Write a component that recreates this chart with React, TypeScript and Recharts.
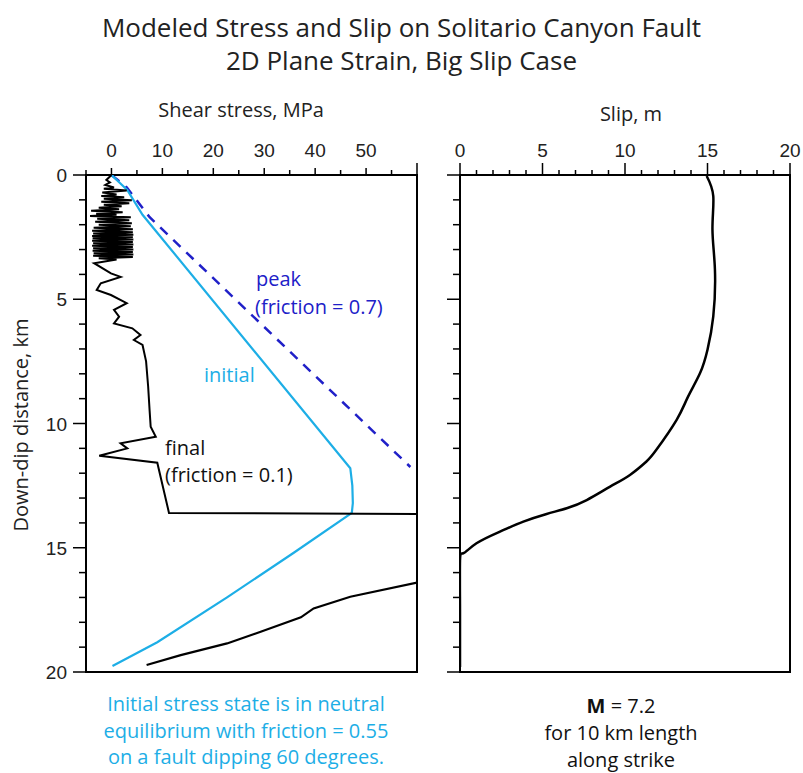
import React from "react";
import { LineChart, Line, XAxis, YAxis, ReferenceArea } from "recharts";

// shear stress profiles (x = MPa, y = down-dip km)
const finalUpper = [
  { x: 0, y: 0 }, { x: -0.5, y: 0.1 }, { x: -1, y: 0.2 }, { x: -0.3, y: 0.3 }, { x: -1.2, y: 0.4 },
  { x: 0.5, y: 0.5 }, { x: -1.5, y: 0.55 }, { x: 3, y: 0.62 }, { x: -1.8, y: 0.7 }, { x: 1, y: 0.78 },
  { x: -2, y: 0.85 }, { x: 2.5, y: 0.9 }, { x: -1.5, y: 0.96 }, { x: 4, y: 1.02 }, { x: -2, y: 1.08 },
  { x: 3.5, y: 1.14 }, { x: -1.5, y: 1.2 }, { x: 2, y: 1.26 }, { x: -2.5, y: 1.32 }, { x: 1.5, y: 1.38 },
  { x: -4, y: 1.44 }, { x: 2.2, y: 1.5 }, { x: -3, y: 1.56 }, { x: 1, y: 1.6 }, { x: -4.2, y: 1.65 },
  { x: 3.8, y: 1.7 }, { x: -2.8, y: 1.76 }, { x: 3.5, y: 1.82 }, { x: -3.2, y: 1.88 }, { x: 4, y: 1.94 },
  { x: -2.5, y: 2.0 }, { x: 3.8, y: 2.06 }, { x: -3.5, y: 2.12 }, { x: 4.2, y: 2.18 }, { x: -3.8, y: 2.24 },
  { x: 4.2, y: 2.3 }, { x: -3.6, y: 2.35 }, { x: 4.3, y: 2.4 }, { x: -3.8, y: 2.45 }, { x: 4.2, y: 2.5 },
  { x: -3.7, y: 2.55 }, { x: 4.3, y: 2.6 }, { x: -3.8, y: 2.65 }, { x: 4.2, y: 2.7 }, { x: -3.6, y: 2.75 },
  { x: 4.3, y: 2.8 }, { x: -3.8, y: 2.85 }, { x: 4.2, y: 2.9 }, { x: -3.6, y: 2.95 }, { x: 4.3, y: 3.0 },
  { x: -3.7, y: 3.05 }, { x: 4.2, y: 3.1 }, { x: -3.5, y: 3.15 }, { x: 4.3, y: 3.2 }, { x: -3.6, y: 3.25 },
  { x: 4.2, y: 3.3 }, { x: -2.5, y: 3.35 }, { x: 1, y: 3.4 }, { x: -3.4, y: 3.55 },
  { x: -0.1, y: 3.96 }, { x: 1.8, y: 4.1 }, { x: -2.1, y: 4.36 }, { x: -2.9, y: 4.63 }, { x: -0.1, y: 4.83 },
  { x: 3.0, y: 5.16 }, { x: 0.5, y: 5.43 }, { x: 1.5, y: 5.7 }, { x: 0.5, y: 5.97 }, { x: 4.1, y: 6.17 },
  { x: 5.7, y: 6.44 }, { x: 4.4, y: 6.64 }, { x: 6.1, y: 6.84 }, { x: 6.8, y: 7.5 }, { x: 7.2, y: 8.5 },
  { x: 7.5, y: 9.5 }, { x: 7.7, y: 10.13 }, { x: 8.7, y: 10.53 }, { x: 1.8, y: 10.8 }, { x: 3.1, y: 11.0 },
  { x: -2.4, y: 11.3 }, { x: 9.0, y: 11.58 }, { x: 11.3, y: 13.6 }, { x: 60, y: 13.64 },
];

const finalLower = [
  { x: 60, y: 16.4 }, { x: 46.9, y: 16.97 }, { x: 39.7, y: 17.44 }, { x: 37.2, y: 17.8 },
  { x: 29.3, y: 18.38 }, { x: 22.7, y: 18.85 }, { x: 13.6, y: 19.32 }, { x: 6.9, y: 19.72 },
];

const initial = [
  { x: 0, y: 0 }, { x: 3.1, y: 0.6 }, { x: 6.1, y: 1.6 }, { x: 46.9, y: 11.8 }, { x: 47.3, y: 12.5 },
  { x: 47.4, y: 13.2 }, { x: 47.2, y: 13.6 }, { x: 35.8, y: 15.2 }, { x: 22.7, y: 17.0 },
  { x: 9.0, y: 18.8 }, { x: 0.2, y: 19.76 },
];

const peak = [
  { x: 0, y: 0 }, { x: 3, y: 0.5 }, { x: 7.5, y: 1.7 }, { x: 58.7, y: 11.75 },
];

// slip profile (x = m, y = km)
const slip = [
  { x: 14.95, y: 0.04 }, { x: 15.35, y: 0.85 }, { x: 15.3, y: 2.19 }, { x: 15.45, y: 3.8 },
  { x: 15.35, y: 5.69 }, { x: 15.0, y: 7.03 }, { x: 14.55, y: 7.97 }, { x: 13.8, y: 8.95 },
  { x: 13.13, y: 9.85 }, { x: 11.9, y: 11.06 }, { x: 11.3, y: 11.53 }, { x: 10.3, y: 12.07 },
  { x: 9.1, y: 12.54 }, { x: 7.68, y: 13.08 }, { x: 6.47, y: 13.41 }, { x: 5.25, y: 13.64 },
  { x: 3.84, y: 13.95 }, { x: 2.42, y: 14.35 }, { x: 1.0, y: 14.82 }, { x: 0.2, y: 15.22 },
  { x: 0, y: 15.5 }, { x: 0, y: 17.5 }, { x: 0, y: 19.8 },
];

const stressTicks = [-5, 0, 5, 10, 15, 20, 25, 30, 35, 40, 45, 50, 55, 60];
const stressLabels = [0, 10, 20, 30, 40, 50];
const slipTicks = [0, 1, 2, 3, 4, 5, 6, 7, 8, 9, 10, 11, 12, 13, 14, 15, 16, 17, 18, 19, 20];
const depthTicks = [0, 1, 2, 3, 4, 5, 6, 7, 8, 9, 10, 11, 12, 13, 14, 15, 16, 17, 18, 19, 20];

const tickFont = "'Liberation Sans', Arial, sans-serif";
const textFont = "'Open Sans', 'Noto Sans', sans-serif";
const CYAN = "#1daee6";
const DARK_BLUE = "#2020c8";

const StressTick = (props: any) => {
  const { x, y, payload } = props;
  const v = payload.value;
  const major = stressLabels.includes(v);
  const len = v === 60 ? 12 : major ? 7 : 5;
  return (
    <g>
      <line x1={x} x2={x} y1={y} y2={y - len} stroke="#000" strokeWidth={1.5} />
      {major && (
        <text x={x} y={y - 18} textAnchor="middle" fontSize={19} fontFamily={tickFont} fill="#222">
          {v}
        </text>
      )}
    </g>
  );
};

const SlipTick = (props: any) => {
  const { x, y, payload } = props;
  const v = payload.value;
  const major = v % 5 === 0;
  return (
    <g>
      <line x1={x} x2={x} y1={y} y2={y - (major ? 12 : 5)} stroke="#000" strokeWidth={1.5} />
      {major && (
        <text x={x} y={y - 18} textAnchor="middle" fontSize={19} fontFamily={tickFont} fill="#222">
          {v}
        </text>
      )}
    </g>
  );
};

const makeDepthTick = (showLabel: boolean) => (props: any) => {
  const { x, y, payload } = props;
  const v = payload.value;
  const major = v % 5 === 0;
  return (
    <g>
      <line x1={x - (major ? 13 : 7)} x2={x} y1={y} y2={y} stroke="#000" strokeWidth={1.5} />
      {showLabel && major && (
        <text x={x - 19} y={y + 7} textAnchor="end" fontSize={19} fontFamily={tickFont} fill="#222">
          {v}
        </text>
      )}
    </g>
  );
};

const txt = (style: React.CSSProperties): React.CSSProperties => ({
  position: "absolute",
  fontFamily: textFont,
  whiteSpace: "nowrap",
  lineHeight: 1,
  fontSize: 20,
  ...style,
});

export default function App() {
  return (
    <div style={{ position: "absolute", left: 0, top: 0, width: 803, height: 773, background: "#fff" }}>
      <div style={{ position: "absolute", left: 0, top: 0 }}>
        <LineChart width={440} height={700} margin={{ top: 145, right: 23, bottom: 28, left: 46 }}>
          <XAxis
            type="number"
            dataKey="x"
            orientation="top"
            domain={[-5, 60]}
            ticks={stressTicks}
            interval={0}
            allowDataOverflow
            height={30}
            axisLine={false}
            tickLine={false}
            tickSize={0}
            tickMargin={0}
            tick={<StressTick />}
          />
          <YAxis
            type="number"
            dataKey="y"
            reversed
            domain={[0, 20]}
            ticks={depthTicks}
            interval={0}
            allowDataOverflow
            width={40}
            axisLine={false}
            tickLine={false}
            tickSize={0}
            tickMargin={0}
            tick={makeDepthTick(true)}
          />
          <ReferenceArea x1={-5} x2={60} y1={0} y2={20} fill="none" stroke="#000" strokeWidth={2} ifOverflow="visible" />
          <Line data={peak} dataKey="y" stroke={DARK_BLUE} strokeWidth={2.5} strokeDasharray="10 8" dot={false} isAnimationActive={false} />
          <Line data={initial} dataKey="y" stroke={CYAN} strokeWidth={2.2} dot={false} isAnimationActive={false} />
          <Line data={finalUpper} dataKey="y" stroke="#000" strokeWidth={2} dot={false} isAnimationActive={false} />
          <Line data={finalLower} dataKey="y" stroke="#000" strokeWidth={2.2} dot={false} isAnimationActive={false} />
        </LineChart>
      </div>

      <div style={{ position: "absolute", left: 440, top: 0 }}>
        <LineChart width={363} height={700} margin={{ top: 145, right: 13, bottom: 28, left: 5 }}>
          <XAxis
            type="number"
            dataKey="x"
            orientation="top"
            domain={[0, 20]}
            ticks={slipTicks}
            interval={0}
            allowDataOverflow
            height={30}
            axisLine={false}
            tickLine={false}
            tickSize={0}
            tickMargin={0}
            tick={<SlipTick />}
          />
          <YAxis
            type="number"
            dataKey="y"
            reversed
            domain={[0, 20]}
            ticks={depthTicks}
            interval={0}
            allowDataOverflow
            width={15}
            axisLine={false}
            tickLine={false}
            tickSize={0}
            tickMargin={0}
            tick={makeDepthTick(false)}
          />
          <ReferenceArea x1={0} x2={20} y1={0} y2={20} fill="none" stroke="#000" strokeWidth={2} ifOverflow="visible" />
          <Line data={slip} dataKey="y" type="natural" stroke="#000" strokeWidth={2.5} dot={false} isAnimationActive={false} />
        </LineChart>
      </div>

      {/* titles */}
      <div style={txt({ left: 0, width: 803, top: 14, textAlign: "center", fontSize: 26, color: "#222" })}>
        Modeled Stress and Slip on Solitario Canyon Fault
      </div>
      <div style={txt({ left: 0, width: 803, top: 47, textAlign: "center", fontSize: 26, color: "#222" })}>
        2D Plane Strain, Big Slip Case
      </div>

      <div style={txt({ left: 141, width: 200, top: 100, textAlign: "center", color: "#222" })}>
        Shear stress, MPa
      </div>
      <div style={txt({ left: 571, width: 120, top: 104, textAlign: "center", color: "#222" })}>
        Slip, m
      </div>
      <div
        style={txt({
          left: 21,
          top: 425,
          color: "#222",
          transform: "translate(-50%, -50%) rotate(-90deg)",
        })}
      >
        Down-dip distance, km
      </div>

      {/* annotations */}
      <div style={txt({ left: 256, top: 269, color: DARK_BLUE })}>peak</div>
      <div style={txt({ left: 255, top: 297, color: DARK_BLUE })}>(friction = 0.7)</div>
      <div style={txt({ left: 204, top: 365, color: CYAN })}>initial</div>
      <div style={txt({ left: 165, top: 438, color: "#111" })}>final</div>
      <div style={txt({ left: 165, top: 465, color: "#111" })}>(friction = 0.1)</div>

      {/* captions */}
      <div style={txt({ left: 96, width: 300, top: 691, textAlign: "center", color: CYAN, lineHeight: "26.5px" })}>
        Initial stress state is in neutral
        <br />
        equilibrium with friction = 0.55
        <br />
        on a fault dipping 60 degrees.
      </div>
      <div style={txt({ left: 521, width: 200, top: 692, textAlign: "center", color: "#111", lineHeight: "27px" })}>
        <b>M</b> = 7.2
        <br />
        for 10 km length
        <br />
        along strike
      </div>
    </div>
  );
}
